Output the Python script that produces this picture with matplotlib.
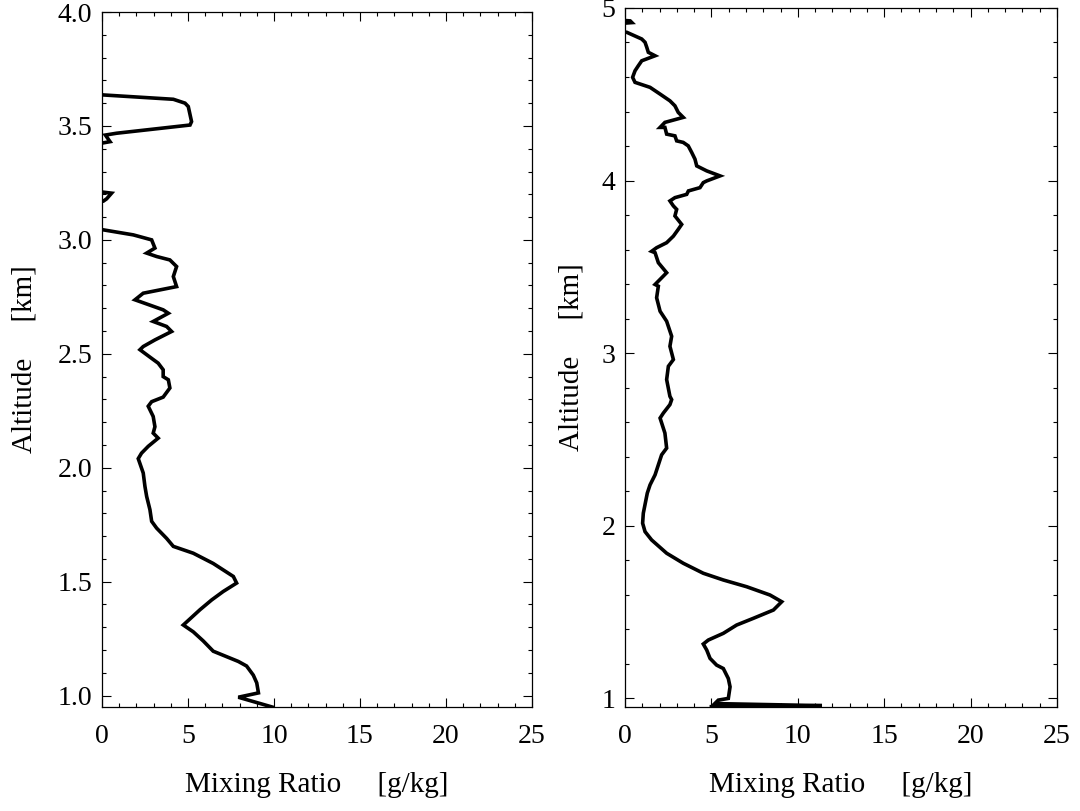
import numpy as np
import matplotlib
matplotlib.use("Agg")
import matplotlib.pyplot as plt
from matplotlib.ticker import MultipleLocator

plt.rcParams['font.family'] = ['Liberation Serif', 'DejaVu Serif']

# Left profile: mixing ratio [g/kg] vs altitude [km]
left_mr = [9.9, 7.93, 9.1, 9.0, 8.8, 8.41, 7.93, 6.47, 5.89, 5.31, 4.73, 5.02, 5.70, 6.38, 7.05,
           7.83, 7.64, 6.47, 5.31, 4.15, 3.76, 3.18, 2.89, 2.79, 2.6, 2.5, 2.4, 2.11, 2.3, 2.69,
           3.27, 2.98, 3.08, 2.98, 2.69, 2.89, 3.56, 3.95, 3.86, 3.56, 3.56, 3.27, 2.89,
           2.21, 2.40, 3.08, 4.05, 3.76, 2.98, 3.86, 3.56, 1.92, 2.40, 4.34, 4.15, 4.34, 3.95,
           3.18, 2.6, 3.08, 2.89, 1.82, 0.08, -1.0, -1.0, 0.08, 0.27, 0.56, -0.2, -1.0, -1.0,
           -0.2, 0.47, 0.2, 0.85, 5.12, 5.21, 5.02, 4.83, 4.15, 0.08, -1.0, -1.0]
left_alt = [0.95, 0.993, 1.012, 1.056, 1.09, 1.13, 1.15, 1.195, 1.24, 1.28, 1.31, 1.33, 1.377,
            1.42, 1.457, 1.494, 1.523, 1.58, 1.625, 1.655, 1.69, 1.735, 1.765, 1.816, 1.874,
            1.918, 1.977, 2.04, 2.064, 2.094, 2.13, 2.152, 2.18, 2.225, 2.27, 2.29, 2.31,
            2.35, 2.386, 2.40, 2.43, 2.459, 2.48, 2.518, 2.532, 2.561, 2.598, 2.62,
            2.642, 2.678, 2.693, 2.737, 2.766, 2.795, 2.839, 2.883, 2.912, 2.927, 2.942,
            2.964, 3.0, 3.022, 3.044, 3.06, 3.16, 3.17, 3.18, 3.205, 3.212, 3.22, 3.41,
            3.422, 3.431, 3.46, 3.468, 3.504, 3.519, 3.585, 3.60, 3.617, 3.636, 3.65, 4.1]

# Right profile
right_mr = [5.0, 11.4, 5.2, 5.4, 5.98, 6.08, 5.98, 5.69, 5.30, 4.92, 4.73, 4.53, 4.82, 5.69,
            6.46, 7.43, 8.59, 9.07, 8.39, 7.04, 5.69, 4.53, 3.37, 2.41, 1.54, 1.16, 1.02, 1.06,
            1.29, 1.45, 1.74, 1.93, 2.12, 2.41, 2.31, 2.03, 2.22, 2.6, 2.70, 2.6, 2.41, 2.51,
            2.8, 2.6, 2.70, 2.41, 2.03, 1.83, 1.93, 1.74, 2.41, 1.93, 1.74, 1.54, 1.83, 2.41,
            2.8, 3.08, 3.28, 2.89, 2.99, 2.8, 2.6, 2.89, 3.57, 3.67, 4.34, 4.53, 4.73, 5.5,
            4.73, 4.15, 4.05, 3.86, 3.66, 3.37, 2.99, 2.89, 2.41, 2.31, 2.03, 2.31, 3.37, 3.08,
            2.89, 2.6, 2.03, 1.45, 0.58, 0.44, 0.58, 0.77, 0.97, 1.74, 1.35, 1.26, 1.16, 0.97,
            0.1, -1.0, -1.0, 0.4, 0.3, -1.0, -1.0]
right_alt = [0.952, 0.958, 0.97, 0.99, 1.0, 1.067, 1.115, 1.173, 1.193, 1.232, 1.28, 1.315,
             1.338, 1.377, 1.425, 1.464, 1.512, 1.56, 1.599, 1.647, 1.686, 1.725, 1.783,
             1.841, 1.918, 1.966, 2.015, 2.073, 2.189, 2.237, 2.295, 2.353, 2.411, 2.45,
             2.537, 2.624, 2.653, 2.702, 2.731, 2.75, 2.847, 2.924, 2.963, 3.04, 3.098,
             3.185, 3.243, 3.321, 3.388, 3.398, 3.466, 3.524, 3.582, 3.59, 3.611, 3.64,
             3.678, 3.717, 3.746, 3.795, 3.833, 3.853, 3.882, 3.901, 3.92, 3.94, 3.959,
             3.988, 3.998, 4.027, 4.056, 4.085, 4.124, 4.163, 4.201, 4.221, 4.23, 4.259,
             4.269, 4.308, 4.308, 4.337, 4.366, 4.395, 4.433, 4.462, 4.501, 4.54, 4.569,
             4.598, 4.636, 4.665, 4.694, 4.723, 4.743, 4.772, 4.801, 4.82, 4.859, 4.87,
             4.905, 4.915, 4.925, 4.935, 5.2]

fig = plt.figure(figsize=(10.8, 8.11), dpi=100)
ax1 = fig.add_axes([0.0944, 0.1282, 0.3981, 0.857])
ax2 = fig.add_axes([0.5787, 0.1282, 0.4000, 0.862])

FS = 20
LFS = 21

def style(ax, ymaj, ymin, fmt):
    ax.set_xlim(0, 25)
    ax.xaxis.set_major_locator(MultipleLocator(5))
    ax.xaxis.set_minor_locator(MultipleLocator(1))
    ax.yaxis.set_major_locator(MultipleLocator(ymaj))
    ax.yaxis.set_minor_locator(MultipleLocator(ymin))
    ax.yaxis.set_major_formatter(fmt)
    ax.tick_params(which='both', direction='in', top=True, right=True, width=0.8,
                   colors='black', labelsize=FS)
    ax.tick_params(which='major', length=6.5)
    ax.tick_params(which='minor', length=3.2)
    ax.tick_params(axis='x', which='major', pad=12)
    ax.tick_params(axis='y', which='major', pad=7)
    for s in ax.spines.values():
        s.set_linewidth(0.9)
    ax.set_xlabel('Mixing Ratio     [g/kg]', fontsize=LFS)
    ax.set_ylabel('Altitude     [km]', fontsize=LFS)

ax1.plot(left_mr, left_alt, color='black', lw=2.6, solid_joinstyle='miter')
ax1.set_ylim(0.95, 4.0)
style(ax1, 0.5, 0.1, '{x:.1f}')
ax1.xaxis.set_label_coords(0.5, -0.093)
ax1.yaxis.set_label_coords(-0.151, 0.5)

ax2.plot(right_mr, right_alt, color='black', lw=2.6, solid_joinstyle='miter')
ax2.set_ylim(0.95, 5.0)
style(ax2, 1, 0.2, '{x:.0f}')
ax2.xaxis.set_label_coords(0.5, -0.093)
ax2.yaxis.set_label_coords(-0.093, 0.5)

fig.savefig('out.png', dpi=100)
